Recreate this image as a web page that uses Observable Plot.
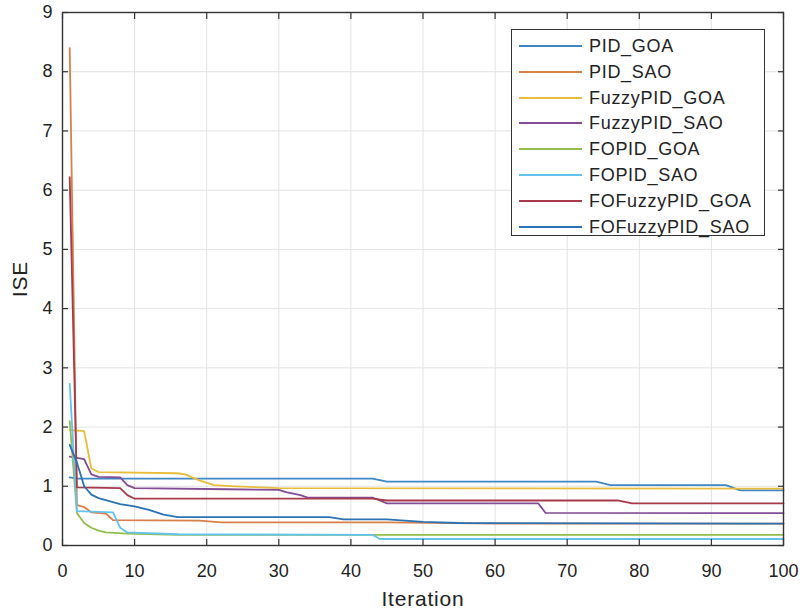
<!DOCTYPE html>
<html>
<head>
<meta charset="utf-8">
<script src="https://cdn.jsdelivr.net/npm/d3@7"></script>
<script src="https://cdn.jsdelivr.net/npm/@observablehq/plot@0.6"></script>
<style>
  html, body { margin: 0; padding: 0; background: #fff; }
  #wrap { position: relative; width: 803px; height: 610px; font-family: "Liberation Sans", Arial, Helvetica, sans-serif; }
  #legend { position: absolute; left: 511px; top: 29px; width: 254px; height: 207px; border: 1.5px solid #333; background: #fff; box-sizing: border-box; }
  .row { position: absolute; left: 0; height: 24px; width: 100%; }
  .sw { position: absolute; left: 7px; width: 63px; top: 11px; height: 0; border-top: 2px solid; }
  .lb { position: absolute; left: 77px; top: 0; font-size: 18px; line-height: 24px; letter-spacing: 0.7px; color: #222; white-space: nowrap; }
</style>
</head>
<body>
<div id="wrap"></div>
<script>
// ---- data (iteration, ISE) breakpoints ----
const seriesNames = ["PID_GOA","PID_SAO","FuzzyPID_GOA","FuzzyPID_SAO","FOPID_GOA","FOPID_SAO","FOFuzzyPID_GOA","FOFuzzyPID_SAO"];
const seriesColors = ["#3f86c4","#d9804a","#e9bd3c","#844c96","#93bd4c","#63c3ec","#a83a4c","#2c72b4"];

const PID_GOA = [[1,1.15],[2,1.13],[43,1.13],[45,1.08],[74,1.08],[76,1.02],[92,1.02],[94,0.93],[100,0.93]];
const PID_SAO = [[1,8.4],[2,0.68],[3,0.65],[4,0.56],[6,0.54],[7,0.43],[19,0.42],[22,0.39],[45,0.39],[60,0.37],[100,0.37]];
const FuzzyPID_GOA = [[1,1.95],[3,1.93],[4,1.3],[5,1.24],[16,1.22],[17,1.2],[19,1.1],[21,1.02],[24,1.0],[30,0.97],[100,0.96]];
const FuzzyPID_SAO = [[1,1.5],[3,1.46],[4,1.2],[5,1.16],[8,1.15],[9,1.02],[10,0.97],[23,0.95],[30,0.94],[31,0.9],[33,0.85],[34,0.81],[43,0.81],[45,0.71],[66,0.71],[67,0.55],[100,0.545]];
const FOPID_GOA = [[1,2.1],[2,0.55],[3,0.38],[4,0.3],[5,0.25],[6,0.22],[9,0.2],[16,0.18],[44,0.18],[100,0.18]];
const FOPID_SAO = [[1,2.73],[2,0.58],[7,0.56],[8,0.3],[9,0.22],[16,0.19],[43,0.18],[44,0.11],[100,0.11]];
const FOFuzzyPID_GOA = [[1,6.22],[2,0.98],[8,0.97],[9,0.85],[10,0.79],[43,0.79],[45,0.76],[77,0.76],[79,0.71],[100,0.71]];
const FOFuzzyPID_SAO = [[1,1.7],[2,1.4],[3,1.0],[4,0.86],[5,0.8],[8,0.7],[10,0.66],[12,0.6],[14,0.52],[16,0.48],[37,0.48],[39,0.44],[45,0.44],[50,0.4],[55,0.38],[100,0.37]];

const xTicks = [0,10,20,30,40,50,60,70,80,90,100];
const yTicks = [0,1,2,3,4,5,6,7,8,9];

const seriesData = [PID_GOA, PID_SAO, FuzzyPID_GOA, FuzzyPID_SAO, FOPID_GOA, FOPID_SAO, FOFuzzyPID_GOA, FOFuzzyPID_SAO];
const rows = seriesData.flatMap((arr, i) => arr.map(([it, v]) => ({name: seriesNames[i], it, v})));

const axisColor = "#333";
const intFmt = d3.format("d");
const chart = Plot.plot({
  width: 803,
  height: 610,
  marginLeft: 62,
  marginRight: 20,
  marginTop: 12,
  marginBottom: 65,
  style: {fontFamily: "'Liberation Sans', Arial, Helvetica, sans-serif", fontSize: "18px", color: "#222", background: "#fff"},
  x: {domain: [0, 100]},
  y: {domain: [0, 9]},
  color: {domain: seriesNames, range: seriesColors},
  marks: [
    Plot.gridX(xTicks, {stroke: "#e3e3e3", strokeOpacity: 1}),
    Plot.gridY(yTicks, {stroke: "#e3e3e3", strokeOpacity: 1}),
    Plot.line(rows, {x: "it", y: "v", z: "name", stroke: "name", strokeWidth: 1.8}),
    Plot.frame({stroke: axisColor, strokeWidth: 1.4}),
    Plot.axisX(xTicks, {anchor: "bottom", tickSize: -6, text: null, label: null, stroke: axisColor, strokeWidth: 1.2}),
    Plot.axisX(xTicks, {anchor: "top", tickSize: -6, text: null, label: null, stroke: axisColor, strokeWidth: 1.2}),
    Plot.axisY(yTicks, {anchor: "left", tickSize: -6, text: null, label: null, stroke: axisColor, strokeWidth: 1.2}),
    Plot.axisY(yTicks, {anchor: "right", tickSize: -6, text: null, label: null, stroke: axisColor, strokeWidth: 1.2}),
    Plot.axisX(xTicks, {anchor: "bottom", tickSize: 0, tickPadding: 19, tickFormat: intFmt, label: "Iteration", labelAnchor: "center", labelOffset: 60, labelArrow: "none", fontSize: 18}),
    Plot.axisY(yTicks, {anchor: "left", tickSize: 0, tickPadding: 10, tickFormat: intFmt, label: "ISE", labelAnchor: "center", labelOffset: 50, labelArrow: "none", fontSize: 18})
  ]
});

const wrap = document.getElementById("wrap");
wrap.appendChild(chart);

// style axis labels slightly larger like the reference
chart.querySelectorAll("[aria-label='x-axis label'] text, [aria-label='y-axis label'] text").forEach(t => {
  t.style.fontSize = "21px";
  t.style.letterSpacing = "0.8px";
});

// legend (HTML overlay)
const legend = document.createElement("div");
legend.id = "legend";
seriesNames.forEach((n, i) => {
  const r = document.createElement("div");
  r.className = "row";
  r.style.top = (4 + i * 25.8) + "px";
  const sw = document.createElement("div");
  sw.className = "sw";
  sw.style.borderTopColor = seriesColors[i];
  const lb = document.createElement("div");
  lb.className = "lb";
  lb.textContent = n;
  r.appendChild(sw); r.appendChild(lb);
  legend.appendChild(r);
});
wrap.appendChild(legend);
</script>
</body>
</html>
